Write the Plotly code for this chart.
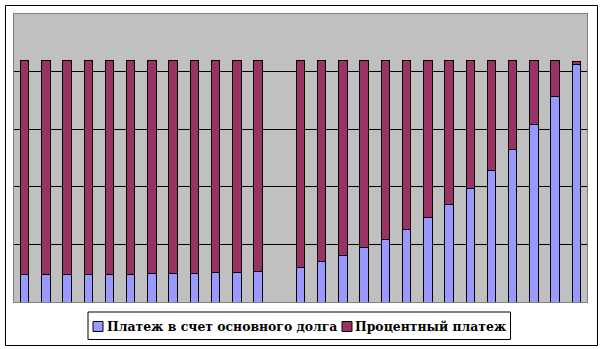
import plotly.graph_objects as go

# slot positions (slot 13 is an empty gap)
x_pos = list(range(1, 13)) + list(range(14, 28))
principal = [940, 940, 940, 970, 970, 970, 1000, 1000, 1000, 1030, 1030, 1070,
             1200, 1410, 1620, 1900, 2180, 2520, 2940, 3390, 3930, 4570, 5300, 6170, 7140, 8250]
interest = [7460, 7460, 7460, 7430, 7430, 7430, 7400, 7400, 7400, 7370, 7370, 7330,
            7200, 6990, 6780, 6500, 6220, 5880, 5460, 5010, 4470, 3830, 3100, 2230, 1260, 100]
names = ["Платеж в счет основного долга", "Процентный платеж"]
colors = ["#9999FF", "#993366"]

fig = go.Figure()
for vals, name, col in [(principal, names[0], colors[0]), (interest, names[1], colors[1])]:
    fig.add_trace(go.Bar(x=x_pos, y=vals, name=name, width=0.4, showlegend=False,
                         marker=dict(color=col, line=dict(color="black", width=1))))

W, H = 603, 349
L, R, T, B = 14, 16, 14, 47
pw, ph = W - L - R, H - T - B

def px(x):
    return (x - L) / pw

def py(y):
    return (H - B - y) / ph

shapes = [
    # outer chart border
    dict(type="rect", xref="paper", yref="paper",
         x0=px(5.5), x1=px(597.5), y0=py(345.5), y1=py(5.5),
         line=dict(color="black", width=1), fillcolor="rgba(0,0,0,0)", layer="below"),
    # legend box
    dict(type="rect", xref="paper", yref="paper",
         x0=px(88), x1=px(510.5), y0=py(339.5), y1=py(312),
         line=dict(color="black", width=1), fillcolor="white"),
]
annotations = []
leg_items = [(93, 106, names[0], colors[0]), (342, 354, names[1], colors[1])]
for sx, tx, name, col in leg_items:
    shapes.append(dict(type="rect", xref="paper", yref="paper",
                       x0=px(sx), x1=px(sx + 10), y0=py(331.5), y1=py(321.5),
                       line=dict(color="black", width=1), fillcolor=col))
    annotations.append(dict(xref="paper", yref="paper", x=px(tx - 1), y=py(326.5),
                            xanchor="left", yanchor="middle", showarrow=False,
                            text=name,
                            font=dict(family="DejaVu Serif", size=12.4, color="black",
                                      weight="bold")))

fig.update_layout(
    width=W, height=H,
    margin=dict(l=L, r=R, t=T, b=B, autoexpand=False),
    barmode="stack",
    paper_bgcolor="white",
    plot_bgcolor="#C0C0C0",
    showlegend=False,
    xaxis=dict(range=[0.5, 27.5], showticklabels=False, ticks="", showgrid=False,
               zeroline=False, showline=True, linecolor="#808080", linewidth=1, mirror=True),
    yaxis=dict(range=[0, 10000], dtick=2000, showticklabels=False, ticks="",
               showgrid=True, gridcolor="black", gridwidth=1, zeroline=False,
               showline=True, linecolor="#808080", linewidth=1, mirror=True),
    shapes=shapes,
    annotations=annotations,
)
fig.write_html("out.html")
